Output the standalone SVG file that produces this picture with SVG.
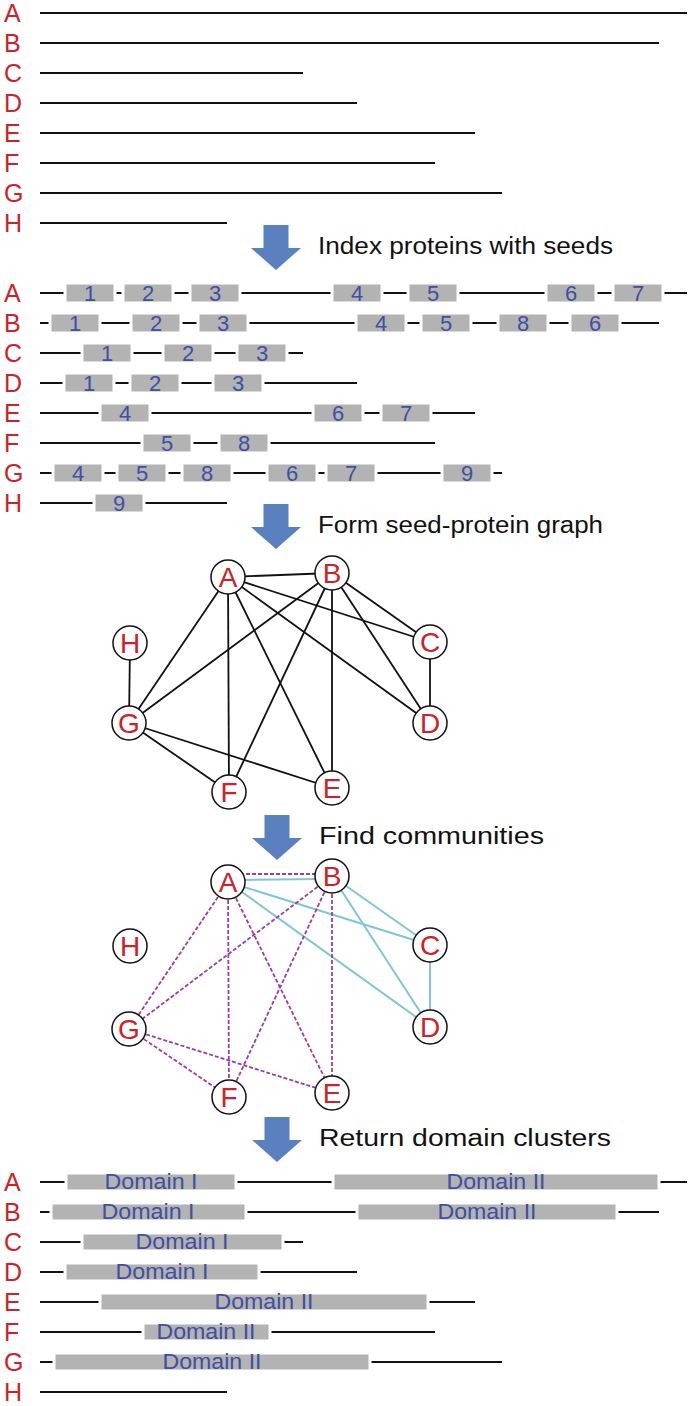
<svg xmlns="http://www.w3.org/2000/svg" width="692" height="1406" viewBox="0 0 692 1406">
<defs>
<style>
.lbl{font-family:"Liberation Sans",Arial,sans-serif;font-size:25px;fill:#cc2229}
.bb{stroke:#111;stroke-width:1.8}
.seed{fill:#b3b3b3;stroke:#fff;stroke-width:3}
.num{font-family:"Liberation Sans",Arial,sans-serif;font-size:22px;fill:#3f4fa3;text-anchor:middle}
.dom{font-family:"Liberation Sans",Arial,sans-serif;font-size:22px;fill:#3f4fa3;text-anchor:middle}
.cap{font-family:"Liberation Sans",Arial,sans-serif;font-size:23px;fill:#111}
.arr{fill:#5b80c0}
.edge{stroke:#111;stroke-width:1.8}
.cy{stroke:#80c6d6;stroke-width:2}
.pu{stroke:#9c3ca4;stroke-width:1.8;stroke-dasharray:4 2}
.nc{fill:#fff;stroke:#111;stroke-width:1.5}
.nl{font-family:"Liberation Sans",Arial,sans-serif;font-size:28px;fill:#cc2229;text-anchor:middle}
</style>
<path id="arrow" d="M-12.5 0 H12.5 V23 H25 L0 45 L-25 23 H-12.5 Z"/>
</defs>
<rect width="692" height="1406" fill="#fff"/>

<!-- Section 1: proteins -->
<g id="proteins">
<g id="p-A"><text class="lbl" x="4" y="22">A</text><line class="bb" x1="40" y1="13" x2="687" y2="13"/></g>
<g id="p-B"><text class="lbl" x="4" y="52">B</text><line class="bb" x1="40" y1="43" x2="659" y2="43"/></g>
<g id="p-C"><text class="lbl" x="4" y="82">C</text><line class="bb" x1="40" y1="73" x2="303" y2="73"/></g>
<g id="p-D"><text class="lbl" x="4" y="112">D</text><line class="bb" x1="40" y1="103" x2="357" y2="103"/></g>
<g id="p-E"><text class="lbl" x="4" y="142">E</text><line class="bb" x1="40" y1="133" x2="475" y2="133"/></g>
<g id="p-F"><text class="lbl" x="4" y="172">F</text><line class="bb" x1="40" y1="163" x2="435" y2="163"/></g>
<g id="p-G"><text class="lbl" x="4" y="202">G</text><line class="bb" x1="40" y1="193" x2="502" y2="193"/></g>
<g id="p-H"><text class="lbl" x="4" y="232">H</text><line class="bb" x1="40" y1="223" x2="227" y2="223"/></g>
</g>

<g id="step1"><use href="#arrow" class="arr" x="276" y="225"/><text class="cap" x="318" y="254" textLength="295" lengthAdjust="spacingAndGlyphs">Index proteins with seeds</text></g>

<!-- Section 2: seeds -->
<g id="seeds">
<g id="s-A"><text class="lbl" x="4" y="302">A</text><line class="bb" x1="40" y1="293" x2="687" y2="293"/>
<rect class="seed" x="65" y="283" width="50" height="20"/><text class="num" x="90" y="301">1</text>
<rect class="seed" x="123" y="283" width="50" height="20"/><text class="num" x="148" y="301">2</text>
<rect class="seed" x="190" y="283" width="50" height="20"/><text class="num" x="215" y="301">3</text>
<rect class="seed" x="332" y="283" width="50" height="20"/><text class="num" x="357" y="301">4</text>
<rect class="seed" x="408" y="283" width="50" height="20"/><text class="num" x="433" y="301">5</text>
<rect class="seed" x="546" y="283" width="50" height="20"/><text class="num" x="571" y="301">6</text>
<rect class="seed" x="613" y="283" width="50" height="20"/><text class="num" x="638" y="301">7</text></g>
<g id="s-B"><text class="lbl" x="4" y="332">B</text><line class="bb" x1="40" y1="323" x2="659" y2="323"/>
<rect class="seed" x="50" y="313" width="50" height="20"/><text class="num" x="75" y="331">1</text>
<rect class="seed" x="131" y="313" width="50" height="20"/><text class="num" x="156" y="331">2</text>
<rect class="seed" x="198" y="313" width="50" height="20"/><text class="num" x="223" y="331">3</text>
<rect class="seed" x="356" y="313" width="50" height="20"/><text class="num" x="381" y="331">4</text>
<rect class="seed" x="421" y="313" width="50" height="20"/><text class="num" x="446" y="331">5</text>
<rect class="seed" x="498" y="313" width="50" height="20"/><text class="num" x="523" y="331">8</text>
<rect class="seed" x="570" y="313" width="50" height="20"/><text class="num" x="595" y="331">6</text></g>
<g id="s-C"><text class="lbl" x="4" y="362">C</text><line class="bb" x1="40" y1="353" x2="303" y2="353"/>
<rect class="seed" x="82" y="343" width="50" height="20"/><text class="num" x="107" y="361">1</text>
<rect class="seed" x="163" y="343" width="50" height="20"/><text class="num" x="188" y="361">2</text>
<rect class="seed" x="237" y="343" width="50" height="20"/><text class="num" x="262" y="361">3</text></g>
<g id="s-D"><text class="lbl" x="4" y="392">D</text><line class="bb" x1="40" y1="383" x2="357" y2="383"/>
<rect class="seed" x="64" y="373" width="50" height="20"/><text class="num" x="89" y="391">1</text>
<rect class="seed" x="130" y="373" width="50" height="20"/><text class="num" x="155" y="391">2</text>
<rect class="seed" x="213" y="373" width="50" height="20"/><text class="num" x="238" y="391">3</text></g>
<g id="s-E"><text class="lbl" x="4" y="422">E</text><line class="bb" x1="40" y1="413" x2="475" y2="413"/>
<rect class="seed" x="100" y="403" width="50" height="20"/><text class="num" x="125" y="421">4</text>
<rect class="seed" x="313" y="403" width="50" height="20"/><text class="num" x="338" y="421">6</text>
<rect class="seed" x="381" y="403" width="50" height="20"/><text class="num" x="406" y="421">7</text></g>
<g id="s-F"><text class="lbl" x="4" y="452">F</text><line class="bb" x1="40" y1="443" x2="435" y2="443"/>
<rect class="seed" x="142" y="433" width="50" height="20"/><text class="num" x="167" y="451">5</text>
<rect class="seed" x="219" y="433" width="50" height="20"/><text class="num" x="244" y="451">8</text></g>
<g id="s-G"><text class="lbl" x="4" y="482">G</text><line class="bb" x1="40" y1="473" x2="502" y2="473"/>
<rect class="seed" x="53" y="463" width="50" height="20"/><text class="num" x="78" y="481">4</text>
<rect class="seed" x="117" y="463" width="50" height="20"/><text class="num" x="142" y="481">5</text>
<rect class="seed" x="182" y="463" width="50" height="20"/><text class="num" x="207" y="481">8</text>
<rect class="seed" x="267" y="463" width="50" height="20"/><text class="num" x="292" y="481">6</text>
<rect class="seed" x="326" y="463" width="50" height="20"/><text class="num" x="351" y="481">7</text>
<rect class="seed" x="442" y="463" width="50" height="20"/><text class="num" x="467" y="481">9</text></g>
<g id="s-H"><text class="lbl" x="4" y="512">H</text><line class="bb" x1="40" y1="503" x2="227" y2="503"/>
<rect class="seed" x="94" y="493" width="50" height="20"/><text class="num" x="119" y="511">9</text></g>
</g>

<g id="step2"><use href="#arrow" class="arr" x="276" y="504"/><text class="cap" x="318" y="533" textLength="285" lengthAdjust="spacingAndGlyphs">Form seed-protein graph</text></g>

<!-- Section 3: graph -->
<g id="graph1-edges">
<line class="edge" x1="228" y1="577" x2="332" y2="573"/>
<line class="edge" x1="228" y1="577" x2="430" y2="642"/>
<line class="edge" x1="228" y1="577" x2="430" y2="723"/>
<line class="edge" x1="228" y1="577" x2="129" y2="723"/>
<line class="edge" x1="228" y1="577" x2="229" y2="792"/>
<line class="edge" x1="228" y1="577" x2="332" y2="788"/>
<line class="edge" x1="332" y1="573" x2="430" y2="642"/>
<line class="edge" x1="332" y1="573" x2="430" y2="723"/>
<line class="edge" x1="332" y1="573" x2="129" y2="723"/>
<line class="edge" x1="332" y1="573" x2="229" y2="792"/>
<line class="edge" x1="332" y1="573" x2="332" y2="788"/>
<line class="edge" x1="430" y1="642" x2="430" y2="723"/>
<line class="edge" x1="130" y1="643" x2="129" y2="723"/>
<line class="edge" x1="129" y1="723" x2="229" y2="792"/>
<line class="edge" x1="129" y1="723" x2="332" y2="788"/>
</g>
<g id="g1-A"><circle class="nc" cx="228" cy="577" r="17"/><text class="nl" x="228" y="587">A</text></g>
<g id="g1-B"><circle class="nc" cx="332" cy="573" r="17"/><text class="nl" x="332" y="583">B</text></g>
<g id="g1-C"><circle class="nc" cx="430" cy="642" r="17"/><text class="nl" x="430" y="652">C</text></g>
<g id="g1-D"><circle class="nc" cx="430" cy="723" r="17"/><text class="nl" x="430" y="733">D</text></g>
<g id="g1-E"><circle class="nc" cx="332" cy="788" r="17"/><text class="nl" x="332" y="798">E</text></g>
<g id="g1-F"><circle class="nc" cx="229" cy="792" r="17"/><text class="nl" x="229" y="802">F</text></g>
<g id="g1-G"><circle class="nc" cx="129" cy="723" r="17"/><text class="nl" x="129" y="733">G</text></g>
<g id="g1-H"><circle class="nc" cx="130" cy="643" r="17"/><text class="nl" x="130" y="653">H</text></g>

<g id="step3"><use href="#arrow" class="arr" x="277" y="815"/><text class="cap" x="319" y="844" textLength="225" lengthAdjust="spacingAndGlyphs">Find communities</text></g>

<!-- Section 4: communities -->
<g id="graph2-edges">
<line class="cy" x1="240" y1="880" x2="320" y2="879"/>
<line class="cy" x1="228" y1="882" x2="430" y2="945"/>
<line class="cy" x1="228" y1="882" x2="430" y2="1027"/>
<line class="cy" x1="332" y1="876" x2="430" y2="945"/>
<line class="cy" x1="332" y1="876" x2="430" y2="1027"/>
<line class="cy" x1="430" y1="945" x2="430" y2="1027"/>
<line class="pu" x1="240" y1="874" x2="320" y2="874"/>
<line class="pu" x1="228" y1="882" x2="129" y2="1029"/>
<line class="pu" x1="228" y1="882" x2="229" y2="1097"/>
<line class="pu" x1="228" y1="882" x2="332" y2="1093"/>
<line class="pu" x1="332" y1="876" x2="129" y2="1029"/>
<line class="pu" x1="332" y1="876" x2="229" y2="1097"/>
<line class="pu" x1="332" y1="876" x2="332" y2="1093"/>
<line class="pu" x1="129" y1="1029" x2="229" y2="1097"/>
<line class="pu" x1="129" y1="1029" x2="332" y2="1093"/>
</g>
<g id="g2-A"><circle class="nc" cx="228" cy="882" r="17"/><text class="nl" x="228" y="892">A</text></g>
<g id="g2-B"><circle class="nc" cx="332" cy="876" r="17"/><text class="nl" x="332" y="886">B</text></g>
<g id="g2-C"><circle class="nc" cx="430" cy="945" r="17"/><text class="nl" x="430" y="955">C</text></g>
<g id="g2-D"><circle class="nc" cx="430" cy="1027" r="17"/><text class="nl" x="430" y="1037">D</text></g>
<g id="g2-E"><circle class="nc" cx="332" cy="1093" r="17"/><text class="nl" x="332" y="1103">E</text></g>
<g id="g2-F"><circle class="nc" cx="229" cy="1097" r="17"/><text class="nl" x="229" y="1107">F</text></g>
<g id="g2-G"><circle class="nc" cx="129" cy="1029" r="17"/><text class="nl" x="129" y="1039">G</text></g>
<g id="g2-H"><circle class="nc" cx="130" cy="946" r="17"/><text class="nl" x="130" y="956">H</text></g>

<g id="step4"><use href="#arrow" class="arr" x="277" y="1117"/><text class="cap" x="319" y="1146" textLength="292" lengthAdjust="spacingAndGlyphs">Return domain clusters</text></g>

<!-- Section 5: domains -->
<g id="domains">
<g id="d-A"><text class="lbl" x="4" y="1191">A</text><line class="bb" x1="40" y1="1182" x2="687" y2="1182"/>
<rect class="seed" x="66" y="1173" width="170" height="18"/><text class="dom" x="151" y="1189" textLength="93" lengthAdjust="spacingAndGlyphs">Domain I</text>
<rect class="seed" x="333" y="1173" width="326" height="18"/><text class="dom" x="496" y="1189" textLength="99" lengthAdjust="spacingAndGlyphs">Domain II</text></g>
<g id="d-B"><text class="lbl" x="4" y="1221">B</text><line class="bb" x1="40" y1="1212" x2="659" y2="1212"/>
<rect class="seed" x="51" y="1203" width="195" height="18"/><text class="dom" x="148" y="1219" textLength="93" lengthAdjust="spacingAndGlyphs">Domain I</text>
<rect class="seed" x="357" y="1203" width="260" height="18"/><text class="dom" x="487" y="1219" textLength="99" lengthAdjust="spacingAndGlyphs">Domain II</text></g>
<g id="d-C"><text class="lbl" x="4" y="1251">C</text><line class="bb" x1="40" y1="1242" x2="303" y2="1242"/>
<rect class="seed" x="82" y="1233" width="201" height="18"/><text class="dom" x="182" y="1249" textLength="93" lengthAdjust="spacingAndGlyphs">Domain I</text></g>
<g id="d-D"><text class="lbl" x="4" y="1281">D</text><line class="bb" x1="40" y1="1272" x2="357" y2="1272"/>
<rect class="seed" x="65" y="1263" width="194" height="18"/><text class="dom" x="162" y="1279" textLength="93" lengthAdjust="spacingAndGlyphs">Domain I</text></g>
<g id="d-E"><text class="lbl" x="4" y="1311">E</text><line class="bb" x1="40" y1="1302" x2="475" y2="1302"/>
<rect class="seed" x="100" y="1293" width="328" height="18"/><text class="dom" x="264" y="1309" textLength="99" lengthAdjust="spacingAndGlyphs">Domain II</text></g>
<g id="d-F"><text class="lbl" x="4" y="1341">F</text><line class="bb" x1="40" y1="1332" x2="435" y2="1332"/>
<rect class="seed" x="143" y="1323" width="127" height="18"/><text class="dom" x="206" y="1339" textLength="99" lengthAdjust="spacingAndGlyphs">Domain II</text></g>
<g id="d-G"><text class="lbl" x="4" y="1371">G</text><line class="bb" x1="40" y1="1362" x2="502" y2="1362"/>
<rect class="seed" x="54" y="1353" width="316" height="18"/><text class="dom" x="212" y="1369" textLength="99" lengthAdjust="spacingAndGlyphs">Domain II</text></g>
<g id="d-H"><text class="lbl" x="4" y="1401">H</text><line class="bb" x1="40" y1="1392" x2="227" y2="1392"/></g>
</g>
</svg>
